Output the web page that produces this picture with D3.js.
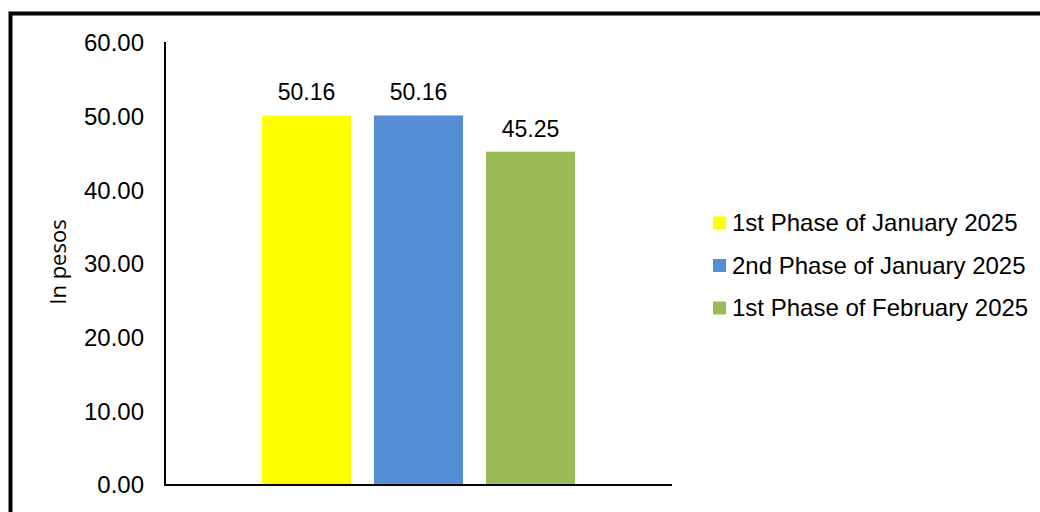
<!DOCTYPE html>
<html><head><meta charset="utf-8">
<script src="https://cdn.jsdelivr.net/npm/d3@7"></script>
<style>
html,body{margin:0;padding:0;background:#fff;overflow:hidden;}
text{font-family:"Liberation Sans",Arial,sans-serif;fill:#000;}
</style></head>
<body>
<svg id="chart" width="1040" height="512"></svg>
<script>
const series = ["1st Phase of January 2025","2nd Phase of January 2025","1st Phase of February 2025"];
const values = [50.16, 50.16, 45.25];
const colors = ["#FFFF00","#558ED5","#9BBB59"];
const yTicks = [0,10,20,30,40,50,60];
const yTitle = "In pesos";

(function(){
const svg = d3.select("#chart");

// frame
svg.append("rect").attr("x",10.5).attr("y",13.5).attr("width",1200).attr("height",800)
  .attr("fill","none").attr("stroke","#000").attr("stroke-width",4);

const pL = 165, pR = 672, pT = 43, pB = 485;
const y = d3.scaleLinear().domain([0,60]).range([pB, pT]);
const x = d3.scaleBand().domain(series).range([pL, pR]).paddingInner(0.205).paddingOuter(0.866);

// y axis
const yAxis = svg.append("g").attr("transform",`translate(${pL},0)`)
  .call(d3.axisLeft(y).tickValues(yTicks).tickFormat(d3.format(".2f")).tickSize(0).tickPadding(21));
yAxis.select(".domain").attr("stroke","#000").attr("stroke-width",2).attr("d",`M0,${pT-1}V${pB+1}`);
yAxis.selectAll("text").attr("font-size","24px").attr("font-family","Liberation Sans, Arial, sans-serif").attr("fill","#000");

// bars
svg.append("g").selectAll("rect").data(series).join("rect")
  .attr("x", d => x(d)).attr("width", x.bandwidth())
  .attr("y", (d,i) => y(values[i])).attr("height", (d,i) => pB - y(values[i]))
  .attr("fill", (d,i) => colors[i]);

// value labels
svg.append("g").selectAll("text").data(series).join("text")
  .attr("x", d => x(d) + x.bandwidth()/2)
  .attr("y", (d,i) => y(values[i]) - 15)
  .attr("text-anchor","middle").attr("font-size","23px")
  .text((d,i) => d3.format(".2f")(values[i]));

// x axis
svg.append("line").attr("x1",pL-1).attr("x2",pR).attr("y1",pB).attr("y2",pB)
  .attr("stroke","#000").attr("stroke-width",2);

// y title
svg.append("text").attr("transform","translate(66,262) rotate(-90)")
  .attr("text-anchor","middle").attr("font-size","22px")
  .style("font-family","'Open Sans', sans-serif").text(yTitle);

// legend
const lg = svg.append("g").selectAll("g").data(series).join("g")
  .attr("transform",(d,i)=>`translate(713,${223 + i*42.5})`);
lg.append("rect").attr("x",0).attr("y",-6.5).attr("width",13).attr("height",13).attr("fill",(d,i)=>colors[i]);
lg.append("text").attr("x",19).attr("y",0).attr("dy","0.35em").attr("font-size","24px").text(d=>d);
})();
</script>
</body></html>
